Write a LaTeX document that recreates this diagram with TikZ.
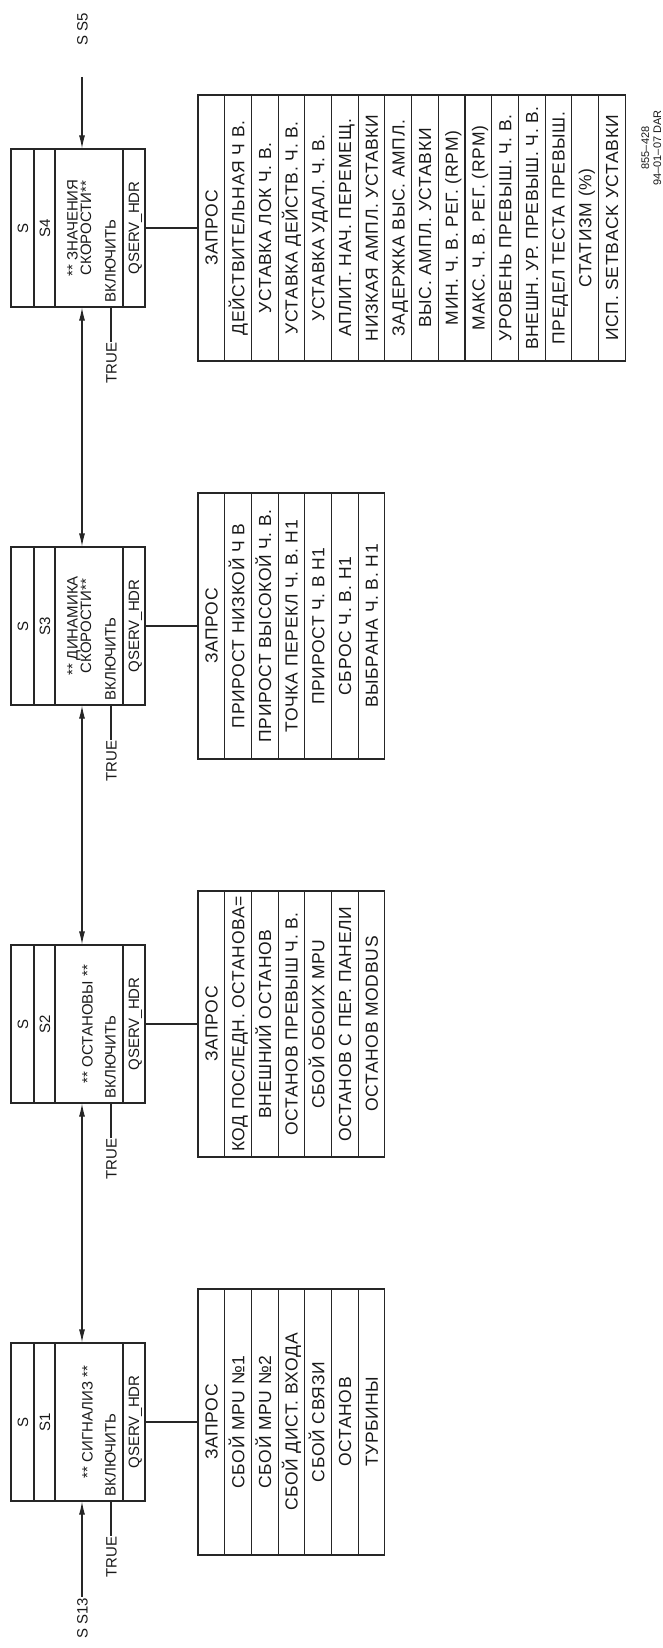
\documentclass[tikz,border=0pt]{standalone}
\usepackage{fontspec}
\setmainfont{Liberation Sans}
\newfontfamily\tabfont[LetterSpace=4]{Liberation Sans}
\usetikzlibrary{arrows.meta}
\newcommand{\mkblock}[3]{%
  \node[blk] (#1) at (78,#2) {};
  \foreach \xx in {34,55,123} \draw[conn] (\xx,{#2-79}) -- (\xx,{#2+79});
  \node[lbl] (#1s) at (22.5,#2) {S};
  \node[lbl] (#1n) at (44.5,#2) {#3};
  \node[lbl,anchor=west] (#1en) at (110,{#2+75}) {ВКЛЮЧИТЬ};
  \node[lbl] (#1q) at (133.5,#2) {QSERV\_HDR};
}
\newcommand{\mktable}[4]{%
  \pgfmathsetmacro{\tw}{26.7*#3}%
  \pgfmathtruncatemacro{\nm}{#3-1}%
  \node[tbl, minimum width=\tw pt, minimum height=266pt] (#1) at ({198+\tw/2},#2) {};
  \foreach \k in {1,...,\nm} \draw[conn] ({198+26.7*\k},{#2-133}) -- ({198+26.7*\k},{#2+133});
  \foreach \txt [count=\k from 0] in {#4} \node[tlbl] (#1r\k) at ({211.35+26.7*\k},#2) {\txt};
}
\begin{document}
\begin{tikzpicture}[x=1pt,y=-1pt,
  conn/.style={line width=1.1pt, draw=black!85},
  blk/.style={draw=black!85, line width=1.1pt, minimum width=134pt, minimum height=158pt, inner sep=0pt},
  tbl/.style={draw=black!85, line width=1.1pt, inner sep=0pt},
  lbl/.style={rotate=90, inner sep=0.5pt, text height=11pt, text depth=0pt, text=black!90, font=\fontsize{15}{18}\selectfont},
  tlbl/.style={rotate=90, inner sep=0pt, text height=12.5pt, text depth=0pt, text=black!90, font=\tabfont\fontsize{17.5}{21}\selectfont},
  smll/.style={rotate=90, inner sep=0pt, text height=8pt, text depth=0pt, text=black!90, font=\fontsize{11}{13}\selectfont},
  arr/.style={conn, -{Latex[length=13pt,width=6pt]}},
  darr/.style={conn, {Latex[length=13pt,width=6pt]}-{Latex[length=13pt,width=6pt]}},
]
\useasboundingbox (0,0) rectangle (663,1648);

% blocks
\mkblock{b1}{1422}{S1}
\mkblock{b2}{1024}{S2}
\mkblock{b3}{626}{S3}
\mkblock{b4}{228}{S4}
\node[lbl] (b1t) at (87,1422) {** СИГНАЛИЗ **};
\node[lbl] (b2t) at (87,1024) {** ОСТАНОВЫ **};
\node[lbl] (b3t1) at (72,626) {** ДИНАМИКА};
\node[lbl] (b3t2) at (85.5,626) {СКОРОСТИ**};
\node[lbl] (b4t1) at (72,228) {** ЗНАЧЕНИЯ};
\node[lbl] (b4t2) at (85.5,228) {СКОРОСТИ**};

% TRUE inputs
\foreach \b/\cy in {b1/1422,b2/1024,b3/626,b4/228}{
  \node[lbl] (tr\b) at (111,{\cy+135}) {TRUE};
  \draw[conn] (tr\b.east) -- (tr\b.east |- \b.south);
}

% arrows between blocks
\draw[darr] ([xshift=4pt]b1.north) -- ([xshift=4pt]b2.south);
\draw[darr] ([xshift=4pt]b2.north) -- ([xshift=4pt]b3.south);
\draw[darr] ([xshift=4pt]b3.north) -- ([xshift=4pt]b4.south);

% external links
\node[lbl] (s13) at (82,1618) {S\hspace{4pt}S13};
\draw[arr] (s13.east) -- (s13.east |- b1.south);
\node[lbl] (s5) at (82,29) {S\hspace{4pt}S5};
\coordinate (s5a) at (82,77);
\draw[arr] (s5a) -- (s5a |- b4.north);

% tables
\mktable{t1}{1422}{7}{ЗАПРОС,СБОЙ MPU №1,СБОЙ MPU №2,СБОЙ ДИСТ. ВХОДА,СБОЙ СВЯЗИ,ОСТАНОВ,ТУРБИНЫ}
\mktable{t2}{1024}{7}{ЗАПРОС,КОД ПОСЛЕДН. ОСТАНОВА=,ВНЕШНИЙ ОСТАНОВ,ОСТАНОВ ПРЕВЫШ Ч. В.,СБОЙ ОБОИХ MPU,ОСТАНОВ С ПЕР. ПАНЕЛИ,ОСТАНОВ MODBUS}
\mktable{t3}{626}{7}{ЗАПРОС,ПРИРОСТ НИЗКОЙ Ч В,ПРИРОСТ ВЫСОКОЙ Ч. В.,ТОЧКА ПЕРЕКЛ Ч. В. Н1,ПРИРОСТ Ч. В Н1,СБРОС Ч. В. Н1,ВЫБРАНА Ч. В. Н1}
\mktable{t4}{228}{16}{ЗАПРОС,ДЕЙСТВИТЕЛЬНАЯ Ч В.,УСТАВКА ЛОК Ч. В.,УСТАВКА ДЕЙСТВ. Ч. В.,УСТАВКА УДАЛ. Ч. В.,АПЛИТ. НАЧ. ПЕРЕМЕЩ.,НИЗКАЯ АМПЛ. УСТАВКИ,ЗАДЕРЖКА ВЫС. АМПЛ.,ВЫС. АМПЛ. УСТАВКИ,МИН. Ч. В. РЕГ. (RPM),МАКС. Ч. В. РЕГ. (RPM),УРОВЕНЬ ПРЕВЫШ. Ч. В.,ВНЕШН. УР. ПРЕВЫШ. Ч. В.,ПРЕДЕЛ ТЕСТА ПРЕВЫШ.,СТАТИЗМ (\%),ИСП. SETBACK УСТАВКИ}

% block to table links
\draw[conn] (b1.east) -- (t1.west);
\draw[conn] (b2.east) -- (t2.west);
\draw[conn] (b3.east) -- (t3.west);
\draw[conn] (b4.east) -- (t4.west);

% drawing code
\node[smll] (code1) at (645,148) {855–428};
\node[smll] (code2) at (657,148) {94–01–07 DAR};
\end{tikzpicture}
\end{document}
